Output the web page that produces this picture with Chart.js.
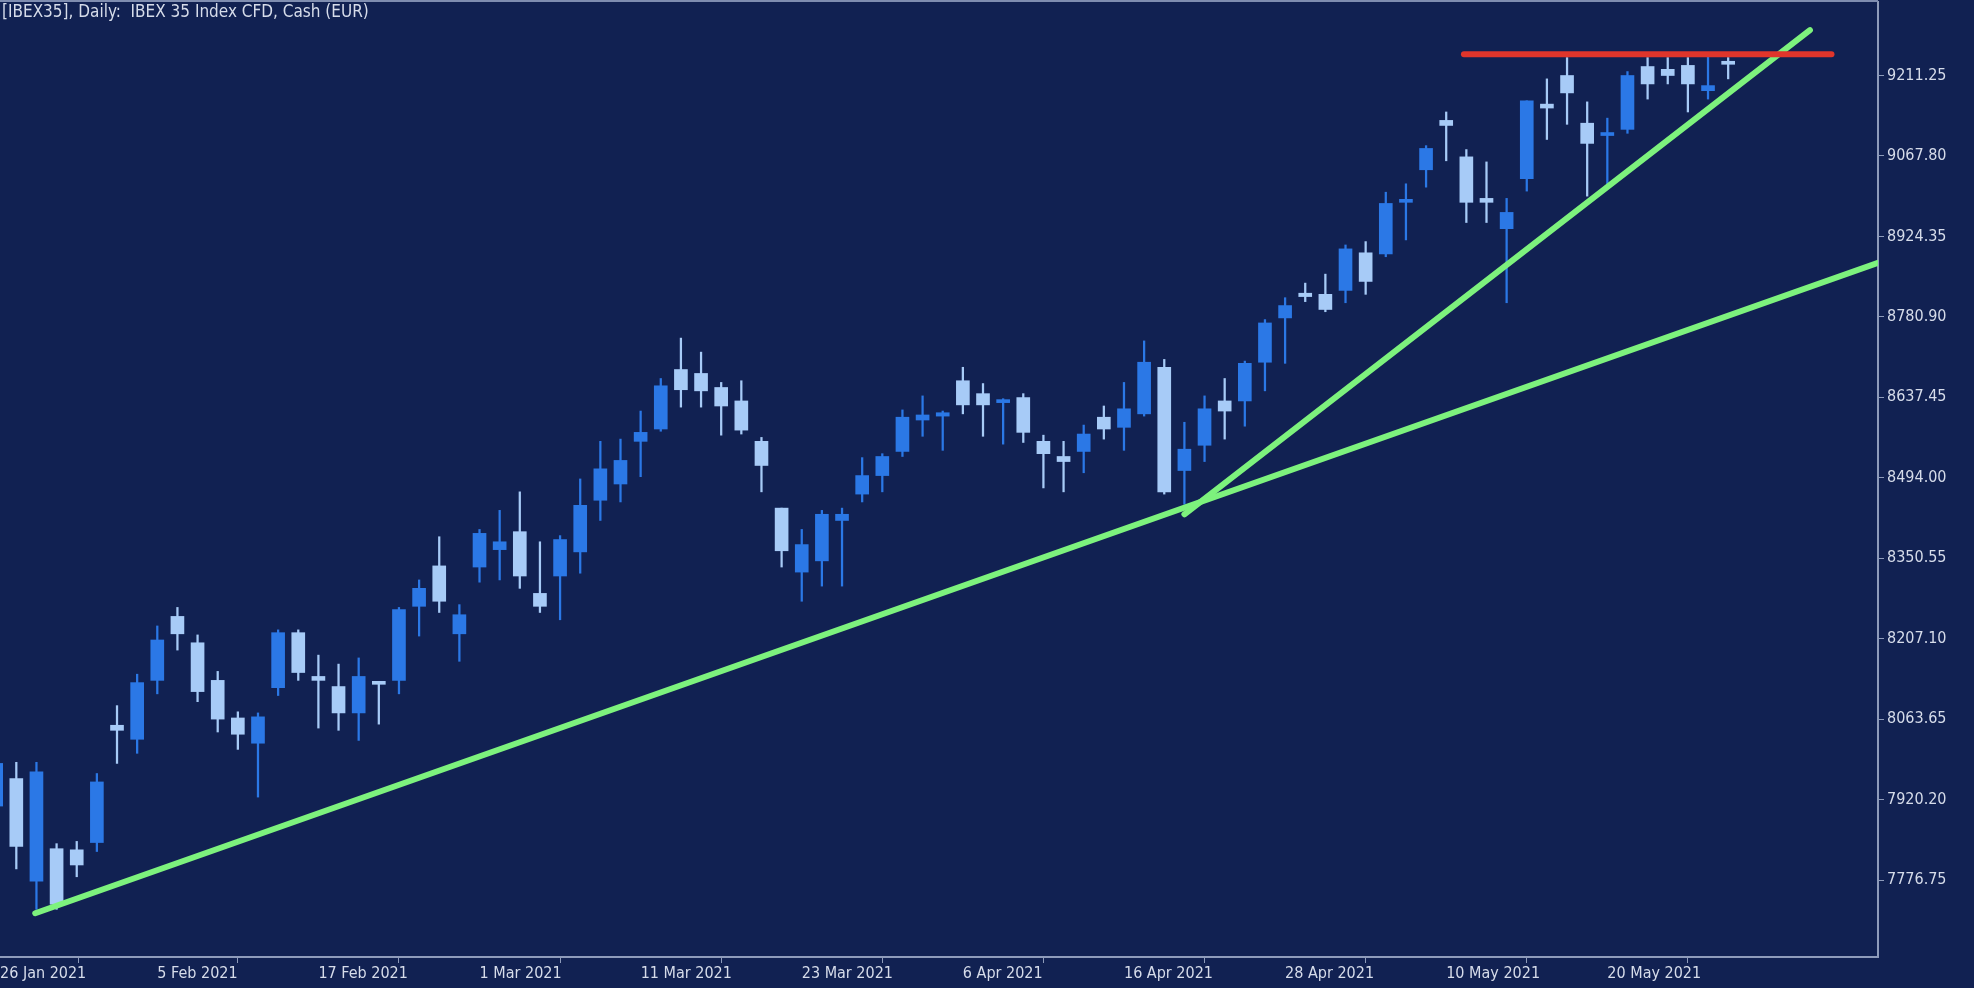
<!DOCTYPE html>
<html>
<head>
<meta charset="utf-8">
<script src="https://cdn.jsdelivr.net/npm/chart.js@4/dist/chart.umd.min.js"></script>
<style>
  html, body { margin: 0; padding: 0; background: #112152; overflow: hidden; }
  #wrap { width: 1974px; height: 988px; }
</style>
</head>
<body>
<div id="wrap"><canvas id="ibex" width="1974" height="988"></canvas></div>
<script>
// daily candles, index 0 = 26 Jan 2021
var opens  = [7909,7958,7775,7833,7831,7844,8053,8028,8133,8247,8200,8133,8066,8021,8120,8218,8140,8122,8075,8129,8133,8265,8337,8216,8335,8366,8398,8288,8319,8362,8454,8483,8559,8581,8687,8680,8655,8631,8559,8440,8326,8346,8418,8465,8498,8541,8597,8604,8667,8644,8628,8637,8559,8532,8541,8602,8584,8608,8691,8507,8552,8631,8631,8700,8779,8823,8821,8828,8895,8893,8985,9043,9131,9066,8992,8938,9027,9160,9211,9126,9104,9115,9227,9222,9229,9184,9234]
var highs  = [7999,7987,7987,7842,7846,7967,8088,8144,8230,8263,8214,8149,8077,8075,8223,8223,8178,8162,8173,8129,8263,8312,8389,8268,8402,8436,8469,8380,8391,8492,8559,8563,8613,8671,8743,8718,8664,8667,8566,8440,8402,8436,8440,8530,8537,8615,8640,8613,8691,8662,8635,8644,8570,8559,8588,8622,8664,8738,8705,8593,8640,8671,8702,8776,8815,8841,8857,8909,8915,9003,9018,9086,9146,9079,9057,8992,9166,9205,9243,9164,9135,9218,9243,9243,9243,9245,9243]
var lows   = [7887,7797,7725,7725,7783,7828,7985,8003,8109,8187,8095,8041,8010,7925,8106,8133,8048,8044,8026,8055,8109,8212,8254,8167,8308,8312,8297,8254,8241,8324,8418,8451,8496,8577,8620,8620,8570,8572,8469,8335,8274,8301,8301,8451,8469,8532,8568,8543,8608,8568,8554,8557,8476,8469,8503,8563,8543,8604,8465,8447,8523,8563,8586,8649,8698,8808,8790,8806,8821,8888,8918,9012,9059,8949,8949,8806,9005,9097,9124,8996,9014,9108,9169,9196,9146,9169,9205]
var closes = [7985,7837,7970,7734,7804,7952,8044,8129,8205,8216,8113,8064,8037,8068,8218,8147,8133,8075,8140,8126,8259,8297,8274,8250,8395,8380,8319,8265,8384,8445,8510,8525,8575,8658,8651,8649,8622,8579,8516,8364,8375,8429,8429,8498,8532,8602,8606,8610,8624,8624,8633,8575,8537,8523,8572,8581,8617,8700,8469,8545,8617,8613,8698,8770,8801,8817,8794,8902,8844,8983,8987,9081,9122,8985,8985,8967,9166,9153,9180,9090,9106,9211,9196,9211,9196,9193,9231]

var tickIdx    = [0.19, 8, 16, 24, 32, 40, 48, 56, 64, 72, 80]
var tickLabels = ['26 Jan 2021','5 Feb 2021','17 Feb 2021','1 Mar 2021','11 Mar 2021','23 Mar 2021','6 Apr 2021','16 Apr 2021','28 Apr 2021','10 May 2021','20 May 2021']
var priceTicks = [7776.75, 7920.20, 8063.65, 8207.10, 8350.55, 8494.00, 8637.45, 8780.90, 8924.35, 9067.80, 9211.25]

// drawn trend lines: [startIdx, startPrice, endIdx, endPrice]
var longTrend  = [1.94, 7718, 93.44, 8877]
var shortTrend = [59.0, 8429, 90.06, 9292]
var resistance = [72.88, 9249, 91.13, 9249]

var UP = '#2b78e6', DOWN = '#a7cbf7'

var bodies = [], wicks = [], bodyColors = []
for (var i = 0; i < opens.length; i++) {
    bodies.push({ x: i, y: [opens[i], closes[i]] })
    wicks.push({ x: i, y: [lows[i], highs[i]] })
    bodyColors.push(closes[i] >= opens[i] ? UP : DOWN)
}

function seg(s) { return [{ x: s[0], y: s[1] }, { x: s[2], y: s[3] }] }

var overlay = {
    id: 'overlay',
    afterDraw: function(chart) {
        var ctx = chart.ctx
        ctx.save()
        ctx.strokeStyle = '#7f8db0'
        ctx.lineWidth = 2
        ctx.beginPath(); ctx.moveTo(0, 1); ctx.lineTo(chart.chartArea.right, 1); ctx.stroke()
        ctx.fillStyle = '#d6dcea'
        ctx.font = '17px "DejaVu Sans Condensed", "DejaVu Sans"'
        ctx.textBaseline = 'top'
        ctx.fillText('[IBEX35], Daily:  IBEX 35 Index CFD, Cash (EUR)', 2, 4)
        ctx.restore()
    }
}

var config = {
    type: 'bar',
    data: {
        datasets: [
            { type: 'line', data: seg(resistance), borderColor: '#e0352b', borderWidth: 6, pointRadius: 0, borderCapStyle: 'round', order: 0 },
            { type: 'line', data: seg(shortTrend), borderColor: '#7df27d', borderWidth: 6, pointRadius: 0, borderCapStyle: 'round', order: 0 },
            { type: 'line', data: seg(longTrend), borderColor: '#7df27d', borderWidth: 6, pointRadius: 0, borderCapStyle: 'round', order: 0 },
            { data: bodies, backgroundColor: bodyColors, barThickness: 13, minBarLength: 3, grouped: false, order: 1 },
            { data: wicks, backgroundColor: bodyColors, barThickness: 1.6, grouped: false, order: 2 }
        ]
    },
    options: {
        responsive: false,
        animation: false,
        devicePixelRatio: 1,
        layout: { padding: { top: 2, left: 0, right: 0, bottom: 0 } },
        plugins: { legend: { display: false }, tooltip: { enabled: false } },
        scales: {
            x: {
                type: 'linear', min: 0.19, max: 93.44, offset: false,
                afterBuildTicks: function(s) { s.ticks = tickIdx.map(function(v) { return { value: v } }) },
                afterFit: function(s) { s.height = 31; s.paddingLeft = 0; s.paddingRight = 0 },
                grid: { drawOnChartArea: false, color: '#8e9bba', tickLength: 6 },
                border: { color: '#8e9bba', width: 2 },
                ticks: {
                    align: 'start', color: '#d6dcea', padding: 1, maxRotation: 0, autoSkip: false,
                    font: { family: '"DejaVu Sans Condensed", "DejaVu Sans"', size: 16 },
                    callback: function(v) { var k = tickIdx.indexOf(v); return k >= 0 ? tickLabels[k] : '' }
                }
            },
            y: {
                position: 'right', min: 7640, max: 9342,
                afterBuildTicks: function(s) { s.ticks = priceTicks.map(function(v) { return { value: v } }) },
                afterFit: function(s) { s.width = 96; s.paddingTop = 0; s.paddingBottom = 0 },
                grid: { drawOnChartArea: false, color: '#8e9bba', tickLength: 6 },
                border: { color: '#8e9bba', width: 2 },
                ticks: {
                    color: '#d6dcea', padding: 3,
                    font: { family: '"DejaVu Sans Condensed", "DejaVu Sans"', size: 16 },
                    callback: function(v) { return v.toFixed(2) }
                }
            }
        }
    },
    plugins: [overlay]
}

var ibexChart = new Chart(document.getElementById('ibex'), config)
</script>
</body>
</html>
